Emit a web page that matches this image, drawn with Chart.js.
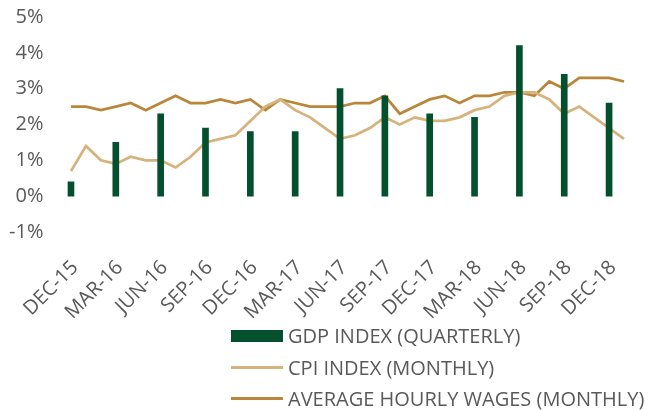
<!DOCTYPE html>
<html>
<head>
<meta charset="utf-8">
<script src="https://cdn.jsdelivr.net/npm/chart.js@4"></script>
<style>
  body { margin: 0; background: #fff; }
  #wrap { position: relative; width: 659px; height: 410px; }
  #legend { position: absolute; left: 231px; top: 320px; font-family: 'Open Sans', sans-serif; font-size: 20px; color: #595959; white-space: nowrap; }
  #legend div { display: flex; align-items: center; height: 31.5px; }
  #legend span.sw { display: inline-block; width: 52px; margin-right: 5px; }
</style>
</head>
<body>
<div id="wrap">
  <canvas id="myChart" width="659" height="410"></canvas>
  <div id="legend"></div>
</div>
<script>
'use strict';

const months = ['DEC-15', 'JAN-16', 'FEB-16', 'MAR-16', 'APR-16', 'MAY-16', 'JUN-16', 'JUL-16', 'AUG-16', 'SEP-16', 'OCT-16', 'NOV-16',
  'DEC-16', 'JAN-17', 'FEB-17', 'MAR-17', 'APR-17', 'MAY-17', 'JUN-17', 'JUL-17', 'AUG-17', 'SEP-17', 'OCT-17', 'NOV-17',
  'DEC-17', 'JAN-18', 'FEB-18', 'MAR-18', 'APR-18', 'MAY-18', 'JUN-18', 'JUL-18', 'AUG-18', 'SEP-18', 'OCT-18', 'NOV-18',
  'DEC-18', 'JAN-19'];

// quarterly GDP, null on the months in between
const gdpValues = [0.4, null, null, 1.5, null, null, 2.3, null, null, 1.9, null, null,
  1.8, null, null, 1.8, null, null, 3.0, null, null, 2.8, null, null,
  2.3, null, null, 2.2, null, null, 4.2, null, null, 3.4, null, null,
  2.6, null];

const cpiValues = [0.7, 1.4, 1.0, 0.9, 1.1, 1.0, 1.0, 0.8, 1.1, 1.5, 1.6, 1.7,
  2.1, 2.5, 2.7, 2.4, 2.2, 1.9, 1.6, 1.7, 1.9, 2.2, 2.0, 2.2,
  2.1, 2.1, 2.2, 2.4, 2.5, 2.8, 2.9, 2.9, 2.7, 2.3, 2.5, 2.2,
  1.9, 1.6];

const wageValues = [2.5, 2.5, 2.4, 2.5, 2.6, 2.4, 2.6, 2.8, 2.6, 2.6, 2.7, 2.6,
  2.7, 2.4, 2.7, 2.6, 2.5, 2.5, 2.5, 2.6, 2.6, 2.8, 2.3, 2.5,
  2.7, 2.8, 2.6, 2.8, 2.8, 2.9, 2.9, 2.8, 3.2, 3.0, 3.3, 3.3,
  3.3, 3.2];

const yTicks = [-1, 0, 1, 2, 3, 4, 5];

const gdpColor = '#034f2e';
const cpiColor = '#d6b27c';
const wageColor = '#b9863a';
const textColor = '#595959';

const data = {
  labels: months,
  datasets: [{
    type: 'bar',
    label: 'GDP INDEX (QUARTERLY)',
    data: gdpValues,
    backgroundColor: gdpColor,
    barThickness: 6,
    skipNull: true
  },
  {
    type: 'line',
    label: 'CPI INDEX (MONTHLY)',
    data: cpiValues,
    borderColor: cpiColor,
    borderWidth: 2.75,
    pointRadius: 0,
    tension: 0
  },
  {
    type: 'line',
    label: 'AVERAGE HOURLY WAGES (MONTHLY)',
    data: wageValues,
    borderColor: wageColor,
    borderWidth: 2.75,
    pointRadius: 0,
    tension: 0
  }]
};

const config = {
  type: 'bar',
  data: data,
  options: {
    responsive: false,
    animation: false,
    layout: {
      padding: { left: 3.5, right: 27.5, top: 17, bottom: 83 }
    },
    plugins: {
      legend: { display: false },
      tooltip: { enabled: false }
    },
    scales: {
      x: {
        offset: true,
        grid: { display: false, drawTicks: false },
        border: { display: false },
        afterFit: function (axis) {
          axis.paddingLeft = 0;
          axis.paddingRight = 0;
          axis.height = 95;
        },
        ticks: {
          autoSkip: false,
          maxRotation: 45,
          minRotation: 45,
          padding: 24,
          labelOffset: 4,
          color: textColor,
          font: { family: 'Open Sans', size: 20 },
          callback: function (value, index) {
            return index % 3 === 0 ? months[index] : '';
          }
        }
      },
      y: {
        min: yTicks[0],
        max: yTicks[yTicks.length - 1],
        grid: { display: false, drawTicks: false },
        border: { display: false },
        afterBuildTicks: function (axis) {
          axis.ticks = yTicks.map(v => ({ value: v }));
        },
        afterFit: function (axis) {
          axis.width = 60;
          axis.paddingTop = 0;
          axis.paddingBottom = 0;
        },
        ticks: {
          padding: 20,
          color: textColor,
          font: { family: 'Open Sans', size: 20 },
          callback: function (value) {
            return value + '%';
          }
        }
      }
    }
  }
};

let canvasChart = document.getElementById('myChart');
const myChart = new Chart(canvasChart, config);

// legend built from the datasets
let legend = document.getElementById('legend');
for (let i = 0; i < data.datasets.length; i++) {
  let ds = data.datasets[i];
  let row = document.createElement('div');
  let sw = document.createElement('span');
  sw.className = 'sw';
  if (ds.type === 'bar') {
    sw.style.height = '12px';
    sw.style.background = ds.backgroundColor;
  } else {
    sw.style.height = '3px';
    sw.style.background = ds.borderColor;
  }
  row.appendChild(sw);
  row.appendChild(document.createTextNode(ds.label));
  legend.appendChild(row);
}
</script>
</body>
</html>
